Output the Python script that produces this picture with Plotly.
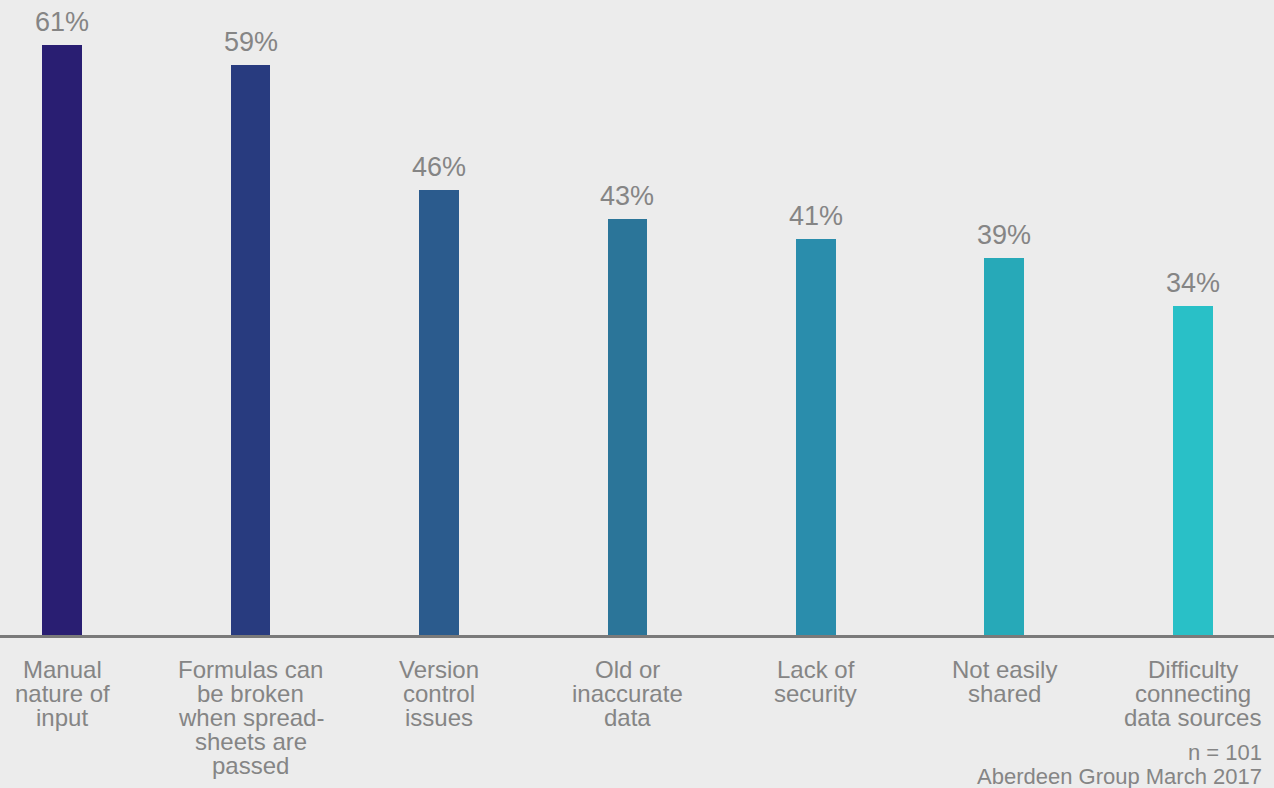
import plotly.graph_objects as go

categories = [
    "Manual<br>nature of<br>input",
    "Formulas can<br>be broken<br>when spread-<br>sheets are<br>passed",
    "Version<br>control<br>issues",
    "Old or<br>inaccurate<br>data",
    "Lack of<br>security",
    "Not easily<br>shared",
    "Difficulty<br>connecting<br>data sources",
]
values = [61, 59, 46, 43, 41, 39, 34]
bar_colors = ["#291e72", "#283b7f", "#2b5b8d", "#2b7599", "#2a8dac", "#27a9b8", "#29c0c7"]
value_labels = [f"{v}%" for v in values]
footer_lines = ["n = 101", "Aberdeen Group March 2017"]

FONT = "Liberation Sans, Arial, Helvetica, sans-serif"
GRAY = "#858585"

x_idx = list(range(len(categories)))

fig = go.Figure()
fig.add_trace(go.Bar(
    x=x_idx, y=values, width=0.212,
    marker=dict(color=bar_colors, line=dict(width=0)),
    hoverinfo="skip",
))

annotations = []
# value labels above bars
for i, (v, t) in enumerate(zip(values, value_labels)):
    annotations.append(dict(
        x=i, y=v, xref="x", yref="y", text=t, showarrow=False,
        yanchor="middle", xanchor="center", yshift=23,
        font=dict(family=FONT, size=27, color=GRAY),
    ))
# category labels, one annotation per line for tight line spacing
for i, lab in enumerate(categories):
    for k, line in enumerate(lab.split("<br>")):
        annotations.append(dict(
            x=i, y=0, xref="x", yref="y", text=line, showarrow=False,
            yanchor="middle", xanchor="center", yshift=-34 - 24 * k,
            font=dict(family=FONT, size=24, color=GRAY),
        ))
# footer
for k, line in enumerate(footer_lines):
    annotations.append(dict(
        x=1, y=0, xref="paper", yref="paper", text=line, showarrow=False,
        xanchor="right", yanchor="middle", xshift=-10, yshift=-(752 - 635) - 24 * k,
        font=dict(family=FONT, size=22, color=GRAY),
    ))

fig.update_layout(
    width=1274, height=788,
    margin=dict(l=0, r=0, t=0, b=153, pad=0),
    paper_bgcolor="#ececec", plot_bgcolor="rgba(0,0,0,0)",
    showlegend=False,
    annotations=annotations,
    xaxis=dict(range=[-0.329, 6.43], showticklabels=False, ticks="",
               showgrid=False, zeroline=False, showline=True,
               linecolor="#7a7a7a", linewidth=2.5, fixedrange=True),
    yaxis=dict(range=[0, 65.7], visible=False, showgrid=False,
               zeroline=False, fixedrange=True),
    bargap=0,
)

fig.write_html(
    "out.html",
    config={"displayModeBar": False},
    post_script="document.body.style.margin='0';document.body.style.overflow='hidden';",
)
